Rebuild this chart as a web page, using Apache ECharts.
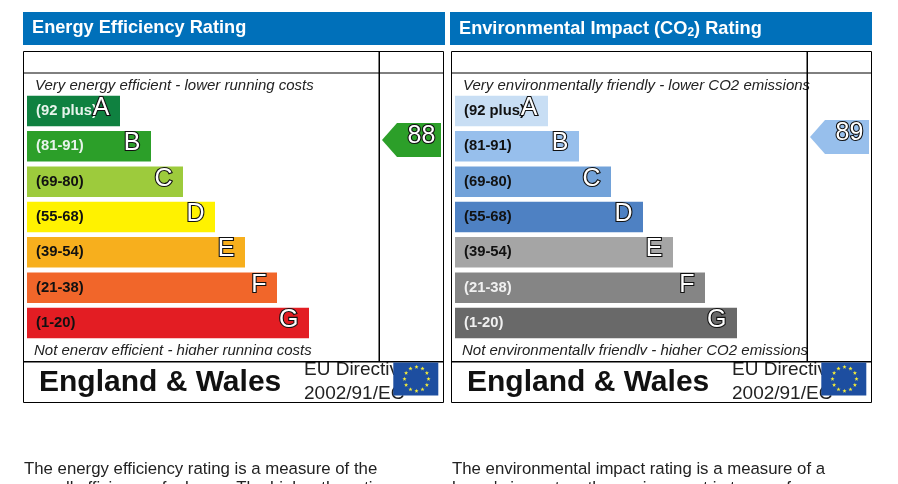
<!DOCTYPE html>
<html><head><meta charset="utf-8">
<style>html,body{margin:0;padding:0;background:#fff}#c{width:898px;height:484px}</style>
<script src="https://cdn.jsdelivr.net/npm/echarts@6/dist/echarts.min.js"></script>
</head><body><div id="c"></div>
<script>
var bands = ['(92 plus)','(81-91)','(69-80)','(55-68)','(39-54)','(21-38)','(1-20)'];
var letters = ['A','B','C','D','E','F','G'];
var barLengths = [93,124,156,188,218,250,282];
var energyColors = ['#0F8140','#2C9F29','#9DCB3C','#FFF200','#F7AF1D','#F1662A','#E31D23'];
var energyLabelColors = ['#E8F4EC','#E8F4EC','#111','#111','#111','#111','#111'];
var envColors = ['#C8DEF4','#97BFEC','#72A2D9','#4E81C3','#A5A5A5','#858585','#696969'];
var envLabelColors = ['#111','#111','#111','#111','#111','#F0F0F0','#F0F0F0'];
var energyRating = 88;
var envRating = 89;
var FONT = '"Liberation Sans", Arial, sans-serif';

function bandSeries(idx, colors, labelColors){
  return [{
    type:'bar', xAxisIndex:idx, yAxisIndex:idx, barWidth:30.5, z:2, silent:true,
    data: barLengths.map(function(v,i){
      return {value:v, itemStyle:{color:colors[i]},
        label:{color:labelColors[i]}};
    }),
    label:{show:true, position:'insideLeft', distance:9, offset:[0,0],
      fontFamily:FONT, fontWeight:'bold', fontSize:14.8,
      formatter:function(p){return bands[p.dataIndex];}}
  },{
    type:'bar', xAxisIndex:idx, yAxisIndex:idx, barWidth:30.5, barGap:'-100%', z:3, silent:true,
    data: barLengths,
    itemStyle:{color:'rgba(0,0,0,0)'},
    label:{show:true, position:'insideRight', distance:10.5, offset:[0,-3],
      fontFamily:FONT, fontSize:25, color:'#fff',
      textBorderColor:'#111', textBorderWidth:2.2,
      formatter:function(p){return letters[p.dataIndex];}}
  }];
}
function pointerSeries(idx, rating, color){
  return {
    type:'scatter', xAxisIndex:idx, yAxisIndex:idx, z:3, silent:true,
    symbol:'path://M0 17L15 0L59 0L59 34L15 34Z', symbolSize:[59,34],
    itemStyle:{color:color, opacity:1},
    data:[[32.5, rating]],
    label:{show:true, position:'inside', offset:[10,-3.5],
      fontFamily:FONT, fontSize:25, color:'#fff',
      textBorderColor:'#111', textBorderWidth:2.2,
      formatter:function(p){return String(p.value[1]);}}
  };
}
function star(cx,cy,R,z){
  var pts=[];
  for(var i=0;i<10;i++){
    var a=-Math.PI/2+i*Math.PI/5, r=i%2?R*0.42:R;
    pts.push([cx+r*Math.cos(a),cy+r*Math.sin(a)]);
  }
  return {type:'polygon',silent:true,z:z,shape:{points:pts},style:{fill:'#F4EC3A'}};
}
// y is the wanted baseline; the text box is placed from its top edge
function txt(x,y,text,size,opts,z){
  opts=opts||{};
  return {type:'text',silent:true,z:z||5,x:x,y:y-size*0.86,style:Object.assign({
    text:text,fontFamily:FONT,fontSize:size,fill:'#111'
  },opts)};
}
function rect(x,y,w,h,fill,z){
  return {type:'rect',silent:true,z:z||1,shape:{x:x,y:y,width:w,height:h},style:{fill:fill}};
}
function line(x1,y1,x2,y2,z){
  return {type:'line',silent:true,z:z||7,shape:{x1:x1,y1:y1,x2:x2,y2:y2},style:{stroke:'#000',lineWidth:1}};
}
function panel(dx, hx, top, bottom, info1, info2, titleEl){
  var els=[];
  els.push(rect(hx,12,422,33,'#0070BA',1));
  els.push(titleEl);
  els.push(txt(35+dx,91,top,15,{fontStyle:'italic',fill:'#222'},5));
  els.push(txt(34+dx,356,bottom,15,{fontStyle:'italic',fill:'#222'},5));
  els.push(rect(24+dx,355,354,6,'#fff',6));
  els.push(rect(380+dx,355,60,6,'#fff',6));
  // frame
  els.push({type:'rect',silent:true,z:7,shape:{x:23.5+dx,y:51.5,width:420,height:351},style:{fill:null,stroke:'#000',lineWidth:1}});
  els.push(line(24+dx,73,443+dx,73));
  els.push({type:'rect',silent:true,z:7,shape:{x:24+dx,y:361,width:420,height:1.5},style:{fill:'#000'}});
  els.push({type:'rect',silent:true,z:7,shape:{x:378.5+dx,y:52,width:1.5,height:309},style:{fill:'#000'}});
  els.push(txt(39+dx,394,'England & Wales',30,{fontWeight:'bold',fill:'#111'},5));
  els.push(txt(304+dx,377,'EU Directive',19,{fill:'#222'},5));
  els.push(txt(304+dx,401,'2002/91/EC',19,{fill:'#222'},5));
  els.push(rect(393.3+dx,362.5,45,33,'#1D4EA0',8));
  for(var i=0;i<12;i++){
    var a=i*Math.PI/6;
    els.push(star(416.5+dx+12*Math.cos(a),379+12*Math.sin(a),2.2,9));
  }
  els.push(txt(24+dx,475,info1,16.8,{fill:'#222'},5));
  els.push(txt(24+dx,494,info2,16.8,{fill:'#222'},5));
  return els;
}

var graphics = [].concat(
  panel(0,23,'Very energy efficient - lower running costs','Not energy efficient - higher running costs',
    'The energy efficiency rating is a measure of the','overall efficiency of a home. The higher the rating',
    txt(32,35,'Energy Efficiency Rating',18.2,{fontWeight:'bold',fill:'#fff'},5)),
  panel(428,450,'Very environmentally friendly - lower CO2 emissions','Not environmentally friendly - higher CO2 emissions',
    'The environmental impact rating is a measure of a',"home's impact on the environment in terms of",
    txt(459,35,'Environmental Impact (CO{s|2}) Rating',18.2,{fontWeight:'bold',fill:'#fff',
      rich:{s:{fontSize:12,fontWeight:'bold',fontFamily:FONT,fill:'#fff',padding:[7,0,0,0]}}},5))
);

function barGrid(left){return {left:left,top:93.3,width:352,height:247.4};}
function ptrGrid(left){return {left:left,top:104,width:64,height:300};}
function hiddenX(i,max){return {type:'value',gridIndex:i,min:0,max:max,show:false};}

var option = {
  animation:false,
  backgroundColor:'#fff',
  grid:[barGrid(27),barGrid(455),ptrGrid(379),ptrGrid(807)],
  xAxis:[hiddenX(0,352),hiddenX(1,352),hiddenX(2,64),hiddenX(3,64)],
  yAxis:[
    {type:'category',gridIndex:0,data:letters,inverse:true,show:false},
    {type:'category',gridIndex:1,data:letters,inverse:true,show:false},
    {type:'value',gridIndex:2,min:0,max:100,show:false},
    {type:'value',gridIndex:3,min:0,max:100,show:false}
  ],
  series:[].concat(
    bandSeries(0,energyColors,energyLabelColors),
    bandSeries(1,envColors,envLabelColors),
    [pointerSeries(2,energyRating,'#2C9F29'),pointerSeries(3,envRating,'#97BFEC')]
  ),
  graphic:{elements:graphics}
};
var chart = echarts.init(document.getElementById('c'),null,{renderer:'canvas'});
chart.setOption(option);
</script></body></html>
